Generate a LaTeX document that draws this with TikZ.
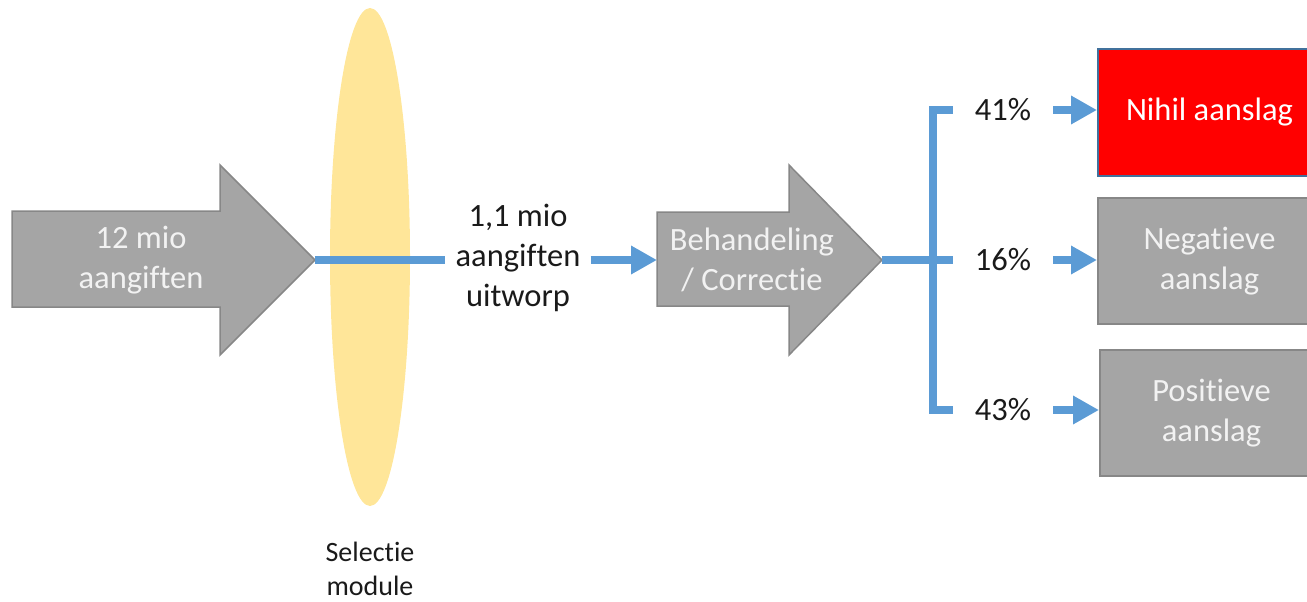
\documentclass[tikz,border=0pt]{standalone}
\usepackage{fontspec}
\setmainfont{Carlito}[Ligatures={NoCommon,NoRequired,NoContextual}]
\usetikzlibrary{arrows.meta,shapes.geometric}
\definecolor{flowblue}{HTML}{5B9BD5}
\definecolor{shapegray}{HTML}{A5A5A5}
\definecolor{edgegray}{HTML}{878787}
\definecolor{lensyellow}{HTML}{FFE699}
\definecolor{redfill}{HTML}{FF0000}
\definecolor{rededge}{HTML}{41719C}
\definecolor{lighttext}{HTML}{F2F2F2}
\definecolor{darktext}{HTML}{1A1A1A}
\begin{document}
\begin{tikzpicture}[x=1pt,y=-1pt,
  bigfont/.style={font=\fontsize{32.5}{40}\selectfont},
  whitetext/.style={bigfont,text=lighttext,align=center,inner sep=0pt},
  blacktext/.style={bigfont,text=darktext,align=center},
  pct/.style={blacktext,inner xsep=22pt,inner ysep=2pt},
  fatarrow/.style={fill=shapegray,draw=edgegray,line width=1.5pt,line join=miter},
  outbox/.style={rectangle,fill=shapegray,draw=edgegray,line width=2pt,anchor=north west,
     minimum width=223pt,minimum height=126pt,whitetext},
  flowline/.style={draw=flowblue,line width=8pt,line join=miter},
  flowarrow/.style={flowline,-{Triangle[length=26pt,width=27pt]}}
]
\useasboundingbox (0,0) rectangle (1307,602);
\clip (0,0) rectangle (1307,602);

% selection lens
\node[ellipse,fill=lensyellow,minimum width=80pt,minimum height=498pt,inner sep=0pt] (lens) at (370,257) {};
\node[font=\fontsize{28}{34}\selectfont,text=darktext,align=center] (lenslabel) at (370,569) {Selectie\\module};

% input arrow
\path[fatarrow] (12,211) -- (220,211) -- (220,165) -- (315,260) -- (220,355) -- (220,307) -- (12,307) -- cycle;
\coordinate (tip1) at (315,260);
\node[whitetext] (intext) at (141,260) {12 mio\\aangiften};

% middle text
\node[blacktext,inner xsep=10pt] (mid) at (518,258) {1,1 mio\\aangiften\\uitworp};

% processing arrow
\path[fatarrow] (657,212) -- (789,212) -- (789,165) -- (882,260) -- (789,355) -- (789,306) -- (657,306) -- cycle;
\coordinate (tip2) at (882,260);
\coordinate (body2w) at (657,260);
\node[whitetext] (proc) at (752,260) {Behandeling\\/ Correctie};

% percentages
\node[pct] (p41) at (1003,110) {41\%};
\node[pct] (p16) at (1003,260) {16\%};
\node[pct] (p43) at (1003,410) {43\%};

% outcome boxes
\node[outbox,fill=redfill,draw=rededge,text=white,minimum height=127pt] (nihil) at (1097,48) {Nihil aanslag};
\node[outbox] (neg) at (1097,197) {Negatieve\\aanslag};
\node[outbox] (pos) at (1099,349) {Positieve\\aanslag};

% connectors
\draw[flowline] (tip1) -- (tip1 -| mid.west);
\draw[flowarrow] (mid.east |- body2w) -- (body2w);
\draw[flowline] (tip2) -- (p16.west);
\draw[flowline] (p41.west) -- ++(-20,0) |- (p43.west);
\draw[flowarrow] (p41.east) -- (p41.east -| nihil.west);
\draw[flowarrow] (p16.east) -- (p16.east -| neg.west);
\draw[flowarrow] (p43.east) -- (p43.east -| pos.west);
\end{tikzpicture}
\end{document}
